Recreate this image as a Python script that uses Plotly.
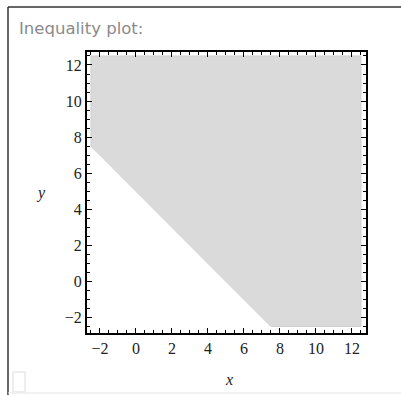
import plotly.graph_objects as go

# Region x + y >= 5 clipped to [-2.5, 12.5] x [-2.5, 12.5]
region_x = [-2.5, -2.5, 12.5, 12.5, 7.5, -2.5]
region_y = [7.5, 12.5, 12.5, -2.5, -2.5, 7.5]
tick_vals = [-2, 0, 2, 4, 6, 8, 10, 12]
tick_text = ["\u22122", "0", "2", "4", "6", "8", "10", "12"]
title_text = "Inequality plot:"

W, H = 401, 395
L, R, T, B = 87, 366, 52, 333

fig = go.Figure()
fig.add_trace(go.Scatter(
    x=region_x, y=region_y, mode="lines", fill="toself",
    fillcolor="#dadada", line=dict(color="#d0d0d0", width=1),
    hoverinfo="skip", showlegend=False))

axis_common = dict(
    showgrid=False, zeroline=False, showline=True, linecolor="black",
    linewidth=2, mirror="allticks", ticks="inside", ticklen=5, tickwidth=1,
    tickcolor="black", tickvals=tick_vals, ticktext=tick_text,
    tickfont=dict(family="Liberation Serif", size=16, color="#222"),
    minor=dict(ticks="inside", ticklen=3, dtick=0.5, tick0=0,
               tickcolor="black", tickwidth=1, showgrid=False),
)
fig.update_xaxes(range=[-2.72, 12.78], **axis_common)
fig.update_yaxes(range=[-2.86, 12.72], **axis_common)

def px(xp):
    return (xp - L) / (R - L)

def py(yp):
    return (B - yp) / (B - T)

fig.add_annotation(text=title_text, x=px(17), y=py(28), xref="paper", yref="paper",
                   xanchor="left", yanchor="middle", showarrow=False,
                   font=dict(family="DejaVu Sans", size=16.5, color="#8a8a8a"))
fig.add_annotation(text="<i>x</i>", x=px(229), y=py(379), xref="paper", yref="paper",
                   xanchor="center", yanchor="middle",
                   showarrow=False, font=dict(family="Liberation Serif", size=16, color="#222"))
fig.add_annotation(text="<i>y</i>", x=px(41), y=py(193), xref="paper", yref="paper",
                   xanchor="center", yanchor="middle",
                   showarrow=False, font=dict(family="Liberation Serif", size=16, color="#222"))

shapes = [
    dict(type="line", xref="paper", yref="paper", x0=px(8), x1=px(8), y0=py(7), y1=py(395),
         line=dict(color="#333", width=1.5)),
    dict(type="line", xref="paper", yref="paper", x0=px(8), x1=px(401), y0=py(7), y1=py(7),
         line=dict(color="#333", width=1.5)),
    dict(type="line", xref="paper", yref="paper", x0=px(8), x1=px(401), y0=py(393), y1=py(393),
         line=dict(color="#e6e6e6", width=1)),
    dict(type="rect", xref="paper", yref="paper", x0=px(13), x1=px(25), y0=py(372), y1=py(392),
         line=dict(color="#eeeeee", width=2), fillcolor="rgba(0,0,0,0)"),
]
fig.update_layout(shapes=shapes)

fig.update_layout(
    width=W, height=H,
    margin=dict(l=L, r=W - R, t=T, b=H - B),
    paper_bgcolor="white", plot_bgcolor="white",
    showlegend=False,
)
fig.write_html("out.html", config={"displayModeBar": False},
               post_script="document.body.style.margin='0px';document.body.style.overflow='hidden';")
